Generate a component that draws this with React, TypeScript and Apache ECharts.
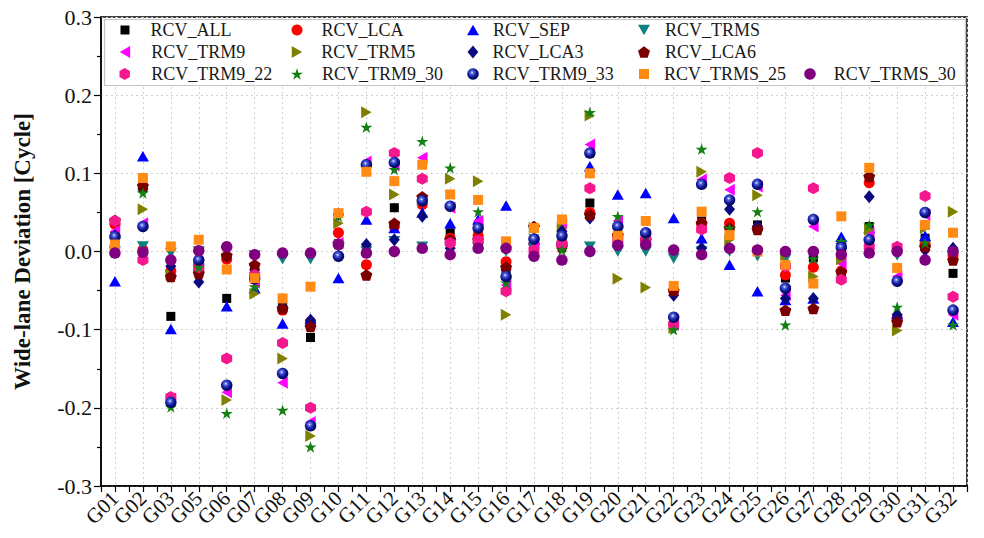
import React, { useEffect, useRef } from 'react';
import * as echarts from 'echarts';

// Station labels along the x axis (G04 absent)
const categories = [
  'G01', 'G02', 'G03', 'G05', 'G06', 'G07', 'G08', 'G09', 'G10', 'G11', 'G12',
  'G13', 'G14', 'G15', 'G16', 'G17', 'G18', 'G19', 'G20', 'G21', 'G22', 'G23',
  'G24', 'G25', 'G26', 'G27', 'G28', 'G29', 'G30', 'G31', 'G32',
];

const yTicks = [-0.3, -0.2, -0.1, 0.0, 0.1, 0.2, 0.3];

// Wide-lane deviation per station [cycle]
const rcvAll = [0.02, 0.082, -0.083, -0.02, -0.06, -0.025, -0.07, -0.11, 0.01, 0.005, 0.056, 0.065, 0.024, 0.02, -0.023, 0.012, 0.02, 0.062, 0.02, 0.015, -0.05, 0.039, 0.03, 0.034, -0.034, -0.008, -0.03, 0.032, -0.085, 0.017, -0.028];
const rcvLca = [0.035, 0.002, -0.025, -0.025, -0.01, -0.03, -0.075, -0.09, 0.024, -0.017, 0.032, 0.06, 0.017, 0.02, -0.013, 0.01, 0.01, 0.05, 0.02, 0.015, -0.05, 0.036, 0.036, 0.03, -0.03, -0.02, -0.025, 0.088, -0.085, 0.01, -0.005];
const rcvSep = [-0.038, 0.122, -0.099, -0.01, -0.07, -0.047, -0.092, -0.086, -0.034, 0.041, 0.03, 0.05, 0.036, 0.041, 0.059, 0.015, 0.015, 0.109, 0.073, 0.075, 0.043, 0.017, -0.017, -0.051, -0.062, -0.06, 0.019, 0.03, -0.08, 0.02, -0.09];
const rcvTrms = [0.0, 0.0065, -0.002, 0.0, 0.0, -0.005, -0.01, -0.01, 0.005, 0.0, 0.013, 0.006, 0.005, 0.005, 0.0, 0.005, 0.005, 0.006, 0.0, 0.0, -0.009, 0.0, 0.0, -0.006, -0.01, -0.005, 0.002, 0.01, -0.005, 0.0, -0.005];
const rcvTrm9 = [0.026, 0.036, -0.188, -0.015, -0.18, -0.04, -0.168, -0.218, 0.011, 0.115, 0.11, 0.12, 0.056, 0.039, -0.043, 0.012, 0.036, 0.137, 0.039, 0.02, -0.094, 0.092, 0.079, 0.083, -0.056, 0.032, -0.015, 0.024, -0.032, 0.047, -0.081];
const rcvTrm5 = [0.002, 0.054, -0.03, -0.02, -0.19, -0.054, -0.137, -0.236, 0.036, 0.178, 0.073, 0.065, 0.093, 0.09, -0.081, 0.03, 0.03, 0.174, -0.035, -0.046, -0.098, 0.102, 0.015, 0.072, -0.004, -0.032, -0.01, 0.028, -0.101, 0.03, 0.051];
const rcvLca3 = [0.02, 0.08, -0.019, -0.039, -0.006, -0.023, -0.07, -0.088, 0.048, 0.009, 0.015, 0.045, 0.004, 0.01, -0.023, 0.016, 0.026, 0.043, 0.03, 0.02, -0.056, 0.004, 0.054, 0.032, -0.06, -0.06, 0.01, 0.07, -0.081, 0.002, 0.004];
const rcvLca6 = [0.04, 0.084, -0.032, -0.028, -0.005, -0.017, -0.073, -0.096, 0.01, -0.03, 0.036, 0.07, 0.015, 0.015, -0.02, 0.032, 0.006, 0.047, 0.021, 0.015, -0.05, 0.036, 0.03, 0.028, -0.075, -0.073, -0.026, 0.096, -0.09, 0.006, -0.011];
const rcvTrm9_22 = [0.039, -0.011, -0.186, -0.02, -0.137, -0.03, -0.117, -0.2, 0.01, 0.051, 0.126, 0.093, 0.011, 0.014, -0.051, 0.002, 0.01, 0.081, 0.015, 0.015, -0.093, 0.028, 0.094, 0.126, -0.019, 0.081, -0.036, 0.006, 0.006, 0.071, -0.058];
const rcvTrm9_30 = [0.015, 0.075, -0.199, -0.02, -0.207, -0.045, -0.203, -0.25, 0.045, 0.159, 0.105, 0.141, 0.107, 0.051, -0.04, 0.02, 0.002, 0.178, 0.045, 0.02, -0.1, 0.131, 0.03, 0.051, -0.094, -0.009, 0.013, 0.034, -0.071, 0.011, -0.094];
const rcvTrm9_33 = [0.019, 0.032, -0.193, -0.011, -0.171, -0.035, -0.156, -0.223, -0.006, 0.111, 0.114, 0.065, 0.058, 0.03, -0.032, 0.016, 0.02, 0.126, 0.032, 0.024, -0.084, 0.086, 0.066, 0.086, -0.047, 0.041, 0.005, 0.015, -0.038, 0.05, -0.075];
const rcvTrms_25 = [0.009, 0.094, 0.0065, 0.015, -0.023, -0.034, -0.06, -0.045, 0.049, 0.102, 0.09, 0.111, 0.073, 0.066, 0.013, 0.03, 0.041, 0.1, 0.02, 0.039, -0.044, 0.051, 0.021, 0.0, -0.017, -0.041, 0.045, 0.107, -0.021, 0.034, 0.024];
const rcvTrms_30 = [-0.002, -0.001, -0.011, 0.001, 0.006, -0.004, -0.002, -0.002, 0.009, -0.002, 0.0, 0.004, -0.004, 0.004, 0.004, -0.006, -0.011, 0.0, 0.008, 0.009, 0.002, -0.004, 0.004, 0.002, 0.0, 0.0, -0.004, -0.002, 0.0, -0.011, 0.0];

const FONT = 'Liberation Serif, Times New Roman, Times, serif';

// Marker outlines
const PENTAGON = 'path://M0,-1L0.951,-0.309L0.588,0.809L-0.588,0.809L-0.951,-0.309Z';
const HEXAGON = 'path://M0,-1L0.866,-0.5L0.866,0.5L0,1L-0.866,0.5L-0.866,-0.5Z';
const STAR = 'path://M0,-1L0.2245,-0.309L0.951,-0.309L0.3633,0.118L0.5878,0.809L0,0.382L-0.5878,0.809L-0.3633,0.118L-0.951,-0.309L-0.2245,-0.309Z';
const TRI_UP = 'path://M1,0L2,1.732L0,1.732Z';
const TRI_DOWN = 'path://M0,0L2,0L1,1.732Z';
const TRI_LEFT = 'path://M0,1L1.732,0L1.732,2Z';
const TRI_RIGHT = 'path://M1.732,1L0,0L0,2Z';
const DIAMOND = 'path://M1,0L2,1.2L1,2.4L0,1.2Z';

const sphere = {
  type: 'radial',
  x: 0.42,
  y: 0.38,
  r: 0.62,
  colorStops: [
    { offset: 0, color: '#eef0ff' },
    { offset: 0.22, color: '#5566e0' },
    { offset: 0.6, color: '#10199a' },
    { offset: 1, color: '#00004d' },
  ],
};

type Def = { name: string; data: number[]; symbol: string; size: [number, number]; color: any };

const defs: Def[] = [
  { name: 'RCV_ALL', data: rcvAll, symbol: 'rect', size: [9, 9], color: '#000000' },
  { name: 'RCV_LCA', data: rcvLca, symbol: 'circle', size: [11, 11], color: '#ff0000' },
  { name: 'RCV_SEP', data: rcvSep, symbol: TRI_UP, size: [12, 10.5], color: '#0000ff' },
  { name: 'RCV_TRMS', data: rcvTrms, symbol: TRI_DOWN, size: [12, 10.5], color: '#0f7f7f' },
  { name: 'RCV_TRM9', data: rcvTrm9, symbol: TRI_LEFT, size: [10.5, 12], color: '#ff00ff' },
  { name: 'RCV_TRM5', data: rcvTrm5, symbol: TRI_RIGHT, size: [10.5, 12], color: '#808000' },
  { name: 'RCV_LCA3', data: rcvLca3, symbol: DIAMOND, size: [11, 13], color: '#0a0a80' },
  { name: 'RCV_LCA6', data: rcvLca6, symbol: PENTAGON, size: [12, 11.5], color: '#7a0000' },
  { name: 'RCV_TRM9_22', data: rcvTrm9_22, symbol: HEXAGON, size: [11, 12], color: '#f5178e' },
  { name: 'RCV_TRM9_30', data: rcvTrm9_30, symbol: STAR, size: [12, 11.5], color: '#138013' },
  { name: 'RCV_TRM9_33', data: rcvTrm9_33, symbol: 'circle', size: [11.5, 11.5], color: sphere },
  { name: 'RCV_TRMS_25', data: rcvTrms_25, symbol: 'rect', size: [10, 10], color: '#ff8a14' },
  { name: 'RCV_TRMS_30', data: rcvTrms_30, symbol: 'circle', size: [11.5, 11.5], color: '#800080' },
];

// Legend grid: marker centre x per column, extra gap before the text, row centres
const legendCols = [125, 297, 473, 644, 810];
const legendTextGap = [16, 14, 9, 10, 13];
const legendRows = [31, 53, 75];
const legendSlot = [
  [0, 0], [0, 1], [0, 2], [0, 3],
  [1, 0], [1, 1], [1, 2], [1, 3],
  [2, 0], [2, 1], [2, 2], [2, 3], [2, 4],
];

const fmt = (v: number) => (Math.abs(v) < 1e-9 ? '0.0' : v.toFixed(1));

export default function App() {
  const ref = useRef<HTMLDivElement>(null);

  useEffect(() => {
    if (!ref.current) return;
    const chart = echarts.init(ref.current, undefined, { renderer: 'svg' });

    const legends = defs.map((d, i) => {
      const [row, col] = legendSlot[i];
      return {
        show: true,
        selectedMode: false,
        padding: 0,
        left: legendCols[col] - d.size[0] / 2,
        top: legendRows[row] - 10,
        itemWidth: d.size[0],
        itemHeight: d.size[1],
        data: [{ name: d.name, icon: d.symbol }],
        textStyle: {
          fontFamily: FONT,
          fontSize: 18,
          color: '#1a1a1a',
          padding: [0, 0, 0, legendTextGap[col]],
        },
        z: 5,
      };
    });

    const option: any = {
      animation: false,
      backgroundColor: '#ffffff',
      textStyle: { fontFamily: FONT },
      grid: {
        left: 101,
        right: 17,
        top: 17,
        bottom: 52,
        show: true,
        borderColor: '#000',
        borderWidth: 1.5,
        backgroundColor: 'transparent',
      },
      graphic: [
        {
          type: 'rect',
          z: 3,
          shape: { x: 104.5, y: 19.5, width: 861, height: 66 },
          style: { fill: '#ffffff', stroke: '#c4c4c4', lineWidth: 1.2 },
        },
      ],
      legend: legends,
      xAxis: [
        {
          type: 'category',
          data: categories,
          boundaryGap: true,
          axisLine: { show: true, onZero: false, lineStyle: { color: '#000', width: 1.5 } },
          axisTick: { show: false },
          splitLine: { show: false },
          axisLabel: {
            interval: 0,
            rotate: 45,
            margin: 9,
            fontFamily: FONT,
            fontSize: 21,
            color: '#111',
          },
        },
        {
          // half-step tick marks and station grid lines
          type: 'category',
          data: new Array(categories.length * 2).fill(''),
          boundaryGap: true,
          position: 'bottom',
          axisLine: { show: false, onZero: false },
          axisLabel: { show: false },
          axisTick: { show: true, interval: 0, length: 6, lineStyle: { color: '#000', width: 1.2 } },
          splitLine: {
            show: true,
            interval: (i: number) => i % 2 === 1,
            lineStyle: { color: '#cfcfcf', type: [2, 3], width: 1 },
          },
        },
      ],
      yAxis: {
        type: 'value',
        min: yTicks[0],
        max: yTicks[yTicks.length - 1],
        interval: 0.1,
        name: 'Wide-lane Deviation [Cycle]',
        nameLocation: 'middle',
        nameGap: 67,
        nameTextStyle: { fontFamily: FONT, fontSize: 23, fontWeight: 'bold', color: '#111' },
        axisLine: { show: true, lineStyle: { color: '#000', width: 1.5 } },
        axisTick: { show: true, length: 7, lineStyle: { color: '#000', width: 1.2 } },
        minorTick: { show: true, splitNumber: 2, length: 4, lineStyle: { color: '#000', width: 1.2 } },
        splitLine: { show: true, lineStyle: { color: '#cfcfcf', type: [2, 3], width: 1 } },
        axisLabel: {
          formatter: fmt,
          margin: 9,
          fontFamily: FONT,
          fontSize: 22,
          color: '#111',
        },
      },
      series: defs.map((d) => ({
        name: d.name,
        type: 'scatter',
        xAxisIndex: 0,
        yAxisIndex: 0,
        data: d.data,
        symbol: d.symbol,
        symbolSize: d.size,
        itemStyle: { color: d.color, opacity: 1 },
        z: 2,
      })),
    };

    chart.setOption(option);
    return () => chart.dispose();
  }, []);

  return <div ref={ref} style={{ width: 984, height: 538, position: 'absolute', left: 0, top: 0 }} />;
}
